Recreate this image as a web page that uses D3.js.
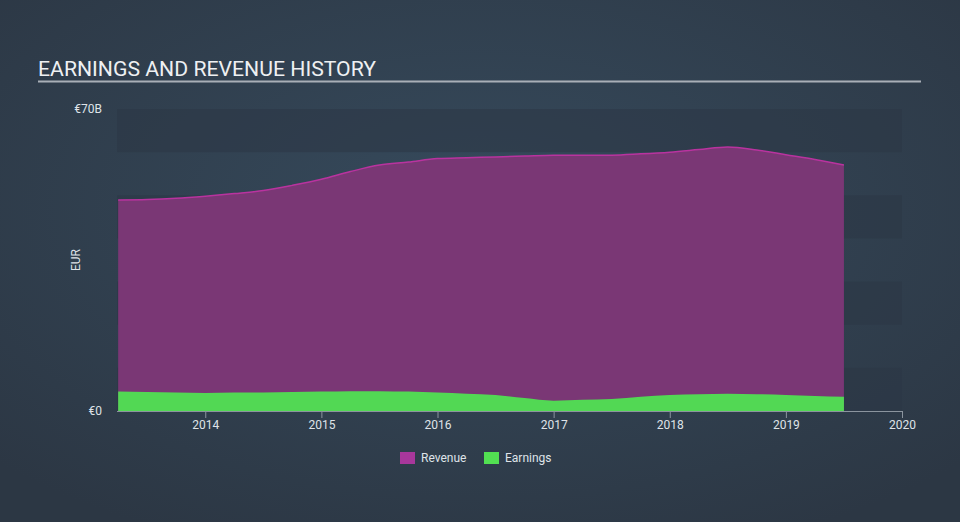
<!DOCTYPE html>
<html>
<head>
<meta charset="utf-8">
<script src="https://cdn.jsdelivr.net/npm/d3@7"></script>
<style>
  html, body { margin: 0; padding: 0; background: #333f4e; }
  svg { display: block; font-family: Roboto, "Open Sans", sans-serif; }
</style>
</head>
<body>
<svg id="viz"></svg>
<script>
var width = 960;
var height = 522;

// quarterly dates (decimal years)
var dates = [2013.25, 2013.5, 2013.75, 2014.0, 2014.25, 2014.5, 2014.75, 2015.0, 2015.25, 2015.5,
    2015.75, 2016.0, 2016.25, 2016.5, 2016.75, 2017.0, 2017.25, 2017.5, 2017.75, 2018.0,
    2018.25, 2018.5, 2018.75, 2019.0, 2019.25, 2019.5];

// EUR billions
var revenue = [48.9, 49.0, 49.3, 49.8, 50.4, 51.1, 52.3, 53.7, 55.5, 57.0,
    57.7, 58.5, 58.7, 58.9, 59.1, 59.3, 59.3, 59.3, 59.6, 60.0,
    60.6, 61.2, 60.5, 59.4, 58.3, 57.0];

var earnings = [4.5, 4.4, 4.3, 4.2, 4.3, 4.3, 4.4, 4.5, 4.6, 4.6,
    4.5, 4.3, 4.0, 3.7, 3.0, 2.4, 2.6, 2.8, 3.3, 3.7,
    3.9, 4.0, 3.9, 3.7, 3.5, 3.3];

var yearTicks = [2014, 2015, 2016, 2017, 2018, 2019, 2020];
var yTickValues = [0, 70];
var yTickLabels = ["€0", "€70B"];
var bandStarts = [0, 20, 40, 60];

var margin = { left: 117, right: 58, top: 109, bottom: 111 };

var svg = d3.select("#viz").attr("width", width).attr("height", height);

// background
var defs = svg.append("defs");
var grad = defs.append("radialGradient").attr("id", "bg")
    .attr("cx", "50%").attr("cy", "40%").attr("r", "70%");
grad.append("stop").attr("offset", "0%").attr("stop-color", "#364a5c");
grad.append("stop").attr("offset", "100%").attr("stop-color", "#2c3744");
svg.append("rect").attr("width", width).attr("height", height).attr("fill", "url(#bg)");

// title
svg.append("text")
    .attr("x", 38).attr("y", 76)
    .attr("fill", "#eef0f2")
    .style("font-size", "20px")
    .attr("textLength", 338)
    .attr("lengthAdjust", "spacingAndGlyphs")
    .text("EARNINGS AND REVENUE HISTORY");
svg.append("line")
    .attr("x1", 38).attr("x2", 921).attr("y1", 81.5).attr("y2", 81.5)
    .attr("stroke", "#a9afb7").attr("stroke-width", 2);

var x = d3.scaleLinear().domain([2013.24, 2020]).range([margin.left, width - margin.right]);
var y = d3.scaleLinear().domain([0, 70]).range([height - margin.bottom, margin.top]);

// grid bands
svg.append("g").selectAll("rect")
    .data(bandStarts)
    .enter()
    .append("rect")
    .attr("x", x(2013.24))
    .attr("width", x(2020) - x(2013.24))
    .attr("y", function (d) { return y(d + 10); })
    .attr("height", function (d) { return y(d) - y(d + 10); })
    .attr("fill", "#2b3746")
    .attr("opacity", 0.55);

var rows = dates.map(function (d, i) {
    return { t: d, rev: revenue[i], earn: earnings[i] };
});

var revArea = d3.area()
    .x(function (d) { return x(d.t); })
    .y0(y(0))
    .y1(function (d) { return y(d.rev); })
    .curve(d3.curveMonotoneX);

var revLine = d3.line()
    .x(function (d) { return x(d.t); })
    .y(function (d) { return y(d.rev); })
    .curve(d3.curveMonotoneX);

var earnArea = d3.area()
    .x(function (d) { return x(d.t); })
    .y0(y(0))
    .y1(function (d) { return y(d.earn); })
    .curve(d3.curveMonotoneX);

svg.append("path").datum(rows).attr("d", revArea).attr("fill", "#7a3775");
svg.append("path").datum(rows).attr("d", revLine)
    .attr("fill", "none").attr("stroke", "#b9339f").attr("stroke-width", 1.5);
svg.append("path").datum(rows).attr("d", earnArea).attr("fill", "#52d854");

// x axis
var xAxis = d3.axisBottom(x)
    .tickValues(yearTicks)
    .tickFormat(d3.format("d"))
    .tickSize(7)
    .tickSizeOuter(0);

var gx = svg.append("g")
    .attr("transform", "translate(0," + y(0) + ")")
    .call(xAxis);
gx.select(".domain").attr("stroke", "#8b949e").attr("d", "M" + x(2013.24) + ",0.5H" + x(2020));
gx.selectAll(".tick line").attr("stroke", "#8b949e");
gx.selectAll(".tick text")
    .attr("fill", "#dfe3e8")
    .attr("y", 9)
    .style("font-size", "12px")
    .style("font-family", "Roboto, sans-serif");

// y labels
svg.append("g").selectAll("text")
    .data(yTickValues)
    .enter()
    .append("text")
    .attr("x", 102)
    .attr("y", function (d) { return y(d); })
    .attr("dy", "0.35em")
    .attr("text-anchor", "end")
    .attr("fill", "#dfe3e8")
    .style("font-size", "12px")
    .text(function (d, i) { return yTickLabels[i]; });

svg.append("text")
    .attr("transform", "translate(80," + y(35) + ") rotate(-90)")
    .attr("text-anchor", "middle")
    .attr("fill", "#dfe3e8")
    .style("font-size", "12px")
    .text("EUR");

// legend
var legendItems = [
    { name: "Revenue", color: "#a8379b", x: 400 },
    { name: "Earnings", color: "#52e052", x: 484 }
];
var lg = svg.append("g").selectAll("g")
    .data(legendItems)
    .enter()
    .append("g")
    .attr("transform", function (d) { return "translate(" + d.x + ",452)"; });
lg.append("rect").attr("width", 15).attr("height", 12).attr("fill", function (d) { return d.color; });
lg.append("text")
    .attr("x", 21).attr("y", 10)
    .attr("fill", "#dfe3e8")
    .style("font-size", "12px")
    .text(function (d) { return d.name; });
</script>
</body>
</html>
